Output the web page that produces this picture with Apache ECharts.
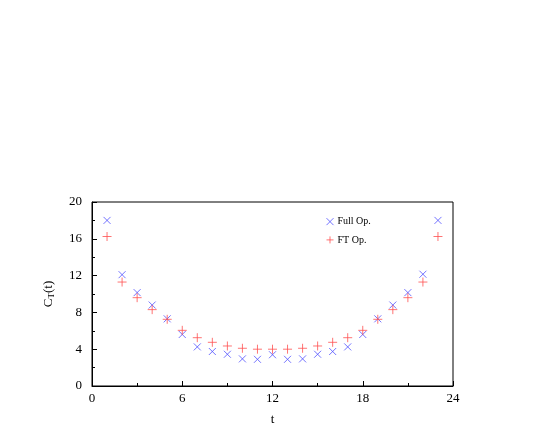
<!DOCTYPE html><html><head><script src="https://cdn.jsdelivr.net/npm/echarts@6/dist/echarts.min.js"></script></head><body style="margin:0"><div id="c" style="width:545px;height:436px"></div><script>
var t=[1,2,3,4,5,6,7,8,9,10,11,12,13,14,15,16,17,18,19,20,21,22,23];
var fullOp=[18.0,12.1,10.15,8.8,7.3,5.6,4.25,3.75,3.45,2.95,2.9,3.4,2.9,2.95,3.45,3.75,4.25,5.6,7.3,8.8,10.15,12.15,18.0];
var ftOp=[16.25,11.3,9.6,8.3,7.25,6.05,5.25,4.75,4.35,4.1,4.0,4.0,4.0,4.1,4.35,4.75,5.25,6.05,7.25,8.3,9.6,11.3,16.25];
var f='Liberation Serif';
function pts(v){return t.map(function(x,i){return [x,v[i]];});}
function ax(m){return {axisLine:{show:true,onZero:false,lineStyle:{color:'#000'}},axisTick:{inside:true,length:5,lineStyle:{color:'#000'}},minorTick:{show:true,splitNumber:2,length:3,lineStyle:{color:'#000'}},splitLine:{show:false},axisLabel:{color:'#000',fontFamily:f,fontSize:13,margin:m}};}
var ch=echarts.init(document.getElementById('c'));
ch.setOption({animation:false,
grid:{left:92,right:92,top:202,bottom:50,show:true,borderColor:'#000',borderWidth:1},
legend:{top:209,left:319,orient:'vertical',itemGap:3,itemWidth:9,itemHeight:7,textStyle:{fontFamily:f,fontSize:10,color:'#000',padding:[0,0,0,-2]},data:[{name:'Full Op.',icon:'path://M0,0L10,10M10,0L0,10',itemStyle:{color:'none',borderColor:'#5050ff',borderWidth:1}},{name:'FT Op.',icon:'path://M5,0L5,10M0,5L10,5',itemStyle:{color:'none',borderColor:'#ff5050',borderWidth:1}}]},
xAxis:Object.assign({type:'value',min:0,max:24,interval:6,name:'t',nameLocation:'middle',nameGap:22,nameTextStyle:{fontFamily:f,fontSize:13,color:'#000'}},ax(3)),
yAxis:Object.assign({type:'value',min:0,max:20,interval:4,name:'{a|C}{b|T}{a|(t)}',nameLocation:'middle',nameGap:17,nameTextStyle:{rich:{a:{fontFamily:f,fontSize:13,color:'#000'},b:{fontFamily:f,fontSize:9,color:'#000',verticalAlign:'bottom',padding:[6,0,0,0]}}}},ax(10)),
series:[
{name:'Full Op.',type:'scatter',data:pts(fullOp),symbol:'path://M0,0L10,10M10,0L0,10',symbolSize:7,itemStyle:{color:'none',borderColor:'#5050ff',borderWidth:1}},
{name:'FT Op.',type:'scatter',data:pts(ftOp),symbol:'path://M5,0L5,10M0,5L10,5',symbolSize:9,itemStyle:{color:'none',borderColor:'#ff5050',borderWidth:1}}
]});
</script></body></html>
